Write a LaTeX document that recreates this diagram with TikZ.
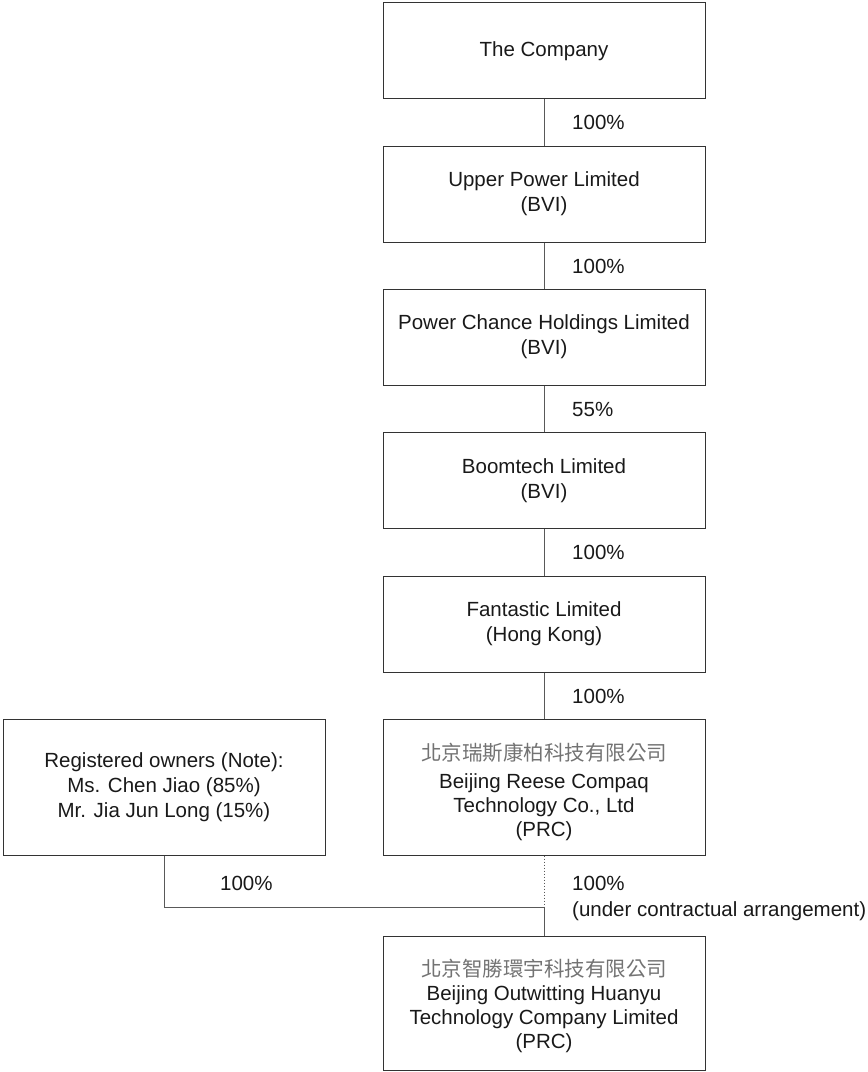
\documentclass[tikz,border=0pt]{standalone}
\usepackage{fontspec}
\setmainfont{Liberation Sans}
\newfontfamily\cjk{Noto Sans CJK TC}
\begin{document}
\begin{tikzpicture}[x=1pt,y=-1pt,
  entity/.style={draw=black!80, line width=1pt, rectangle, minimum width=322pt, minimum height=96pt,
    align=center, text=black!90, font=\fontsize{20.5}{25}\selectfont, inner sep=0pt},
  tall/.style={entity, minimum height=136pt},
  boxtext/.style={align=center, text=black!90, font=\fontsize{20.5}{24}\selectfont, inner sep=0pt},
  link/.style={draw=black!65, line width=1pt},
  dotlink/.style={draw=black!65, line width=1pt, dotted},
  pct/.style={anchor=west, text=black!90, font=\fontsize{20.5}{25}\selectfont, inner sep=0pt}]
\useasboundingbox (0,0) rectangle (868,1072);
\node[entity] (co) at (544,50.7) {The Company};
\node[entity] (up) at (544,194) {Upper Power Limited\\(BVI)};
\node[entity] (pc) at (544,337) {Power Chance Holdings Limited\\(BVI)};
\node[entity] (bt) at (544,480.5) {Boomtech Limited\\(BVI)};
\node[entity] (fl) at (544,624) {Fantastic Limited\\(Hong Kong)};
\node[tall] (rc) at (544,787) {};
\node[boxtext] (rct) at (544,792) {{\cjk\color{black!55}北京瑞斯康柏科技有限公司}\\[4pt]Beijing Reese Compaq\\Technology Co., Ltd\\(PRC)};
\node[tall] (ro) at (164,787) {Registered owners (Note):\\Ms. Chen Jiao (85\%)\\Mr. Jia Jun Long (15\%)};
\node[tall, minimum height=134.5pt] (oh) at (544,1003.5) {};
\node[boxtext] (oht) at (544,1005.5) {{\cjk\color{black!55}北京智勝環宇科技有限公司}\\Beijing Outwitting Huanyu\\Technology Company Limited\\(PRC)};
\coordinate (j) at (544,907);
\draw[link] (co.south) -- (up.north);
\draw[link] (up.south) -- (pc.north);
\draw[link] (pc.south) -- (bt.north);
\draw[link] (bt.south) -- (fl.north);
\draw[link] (fl.south) -- (rc.north);
\draw[dotlink] (rc.south) -- (j);
\draw[link] (ro.south) |- (j) -- (oh.north);
\node[pct] (l1) at (572,122) {100\%};
\node[pct] (l2) at (572,266) {100\%};
\node[pct] (l3) at (572,409) {55\%};
\node[pct] (l4) at (572,552) {100\%};
\node[pct] (l5) at (572,696) {100\%};
\node[pct] (l6) at (220,883) {100\%};
\node[pct] (l7) at (572,883) {100\%};
\node[pct] (l8) at (572,911) {(under contractual arrangement)};
\end{tikzpicture}
\end{document}
